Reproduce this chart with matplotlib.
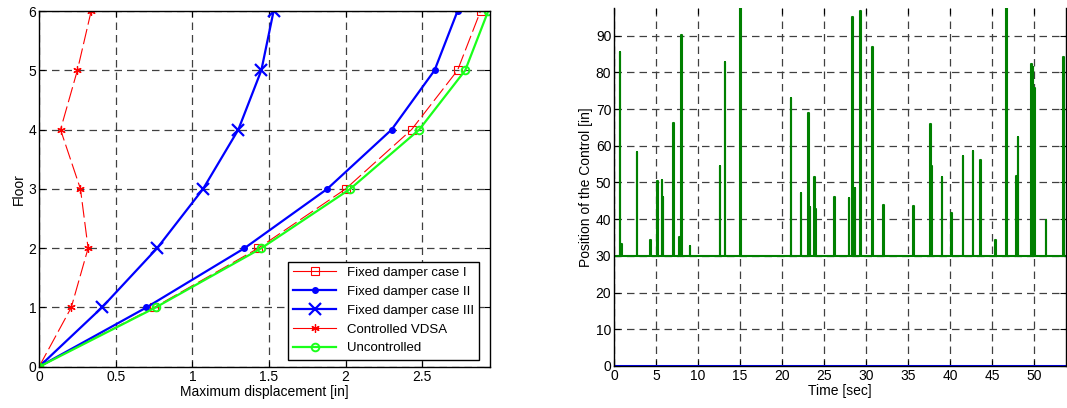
import numpy as np
import matplotlib.pyplot as plt

plt.rcParams['font.family'] = ['Liberation Sans', 'DejaVu Sans']
plt.rcParams['font.size'] = 10

# left plot: maximum displacement per floor
floors = [0, 1, 2, 3, 4, 5, 6]
case_1 = [0, 0.75, 1.43, 2.00, 2.43, 2.73, 2.88]
case_2 = [0, 0.70, 1.34, 1.88, 2.30, 2.58, 2.73]
case_3 = [0, 0.41, 0.77, 1.07, 1.30, 1.45, 1.53]
vdsa = [0, 0.21, 0.32, 0.27, 0.14, 0.25, 0.34]
uncontrolled = [0, 0.76, 1.45, 2.03, 2.48, 2.78, 2.93]

# right plot: control position spikes above the 30 in baseline
base_level = 30
spike_t = [0.71, 0.91, 2.74, 4.29, 5.2, 5.71, 5.83, 7.06, 7.78, 8.06, 9.05,
           12.62, 13.21, 15.08, 21.07, 22.26, 23.13, 23.33, 23.85, 24.0,
           26.23, 27.98, 28.37, 28.69, 29.37, 30.79, 32.06, 35.67, 37.66,
           37.82, 39.05, 40.16, 41.55, 42.74, 43.61, 45.44, 46.71, 47.9,
           48.1, 49.72, 49.88, 50.04, 51.43, 53.53]
spike_v = [85.5, 33.3, 58.3, 34.2, 50.5, 50.7, 46, 66.2, 35.1, 90.3, 32.6,
           54.4, 82.8, 99, 73, 47.1, 69, 43.3, 51.6, 42.8,
           46, 45.8, 95.2, 48.5, 96.6, 87, 44, 43.6, 65.8,
           54.6, 51.6, 41.8, 57.1, 58.7, 56, 34.4, 99, 51.9,
           62.5, 82.3, 81.4, 75.8, 39.7, 84.3]
t_end = 54

# build pulse series from the spike list
t = [0]
pos = [base_level]
w = 0.05
for ts, vs in zip(spike_t, spike_v):
    t += [ts - w, ts - w, ts + w, ts + w]
    pos += [base_level, vs, vs, base_level]
t.append(t_end)
pos.append(base_level)

fig = plt.figure(figsize=(10.67, 4.08), dpi=100)
ax1 = fig.add_axes([0.0366, 0.101, 0.4224, 0.872])
ax2 = fig.add_axes([0.5755, 0.103, 0.4235, 0.877])

red = (1, 0, 0)
blue = (0, 0, 1)
lime = (0.1, 1, 0.1)
dgreen = (0, 0.5, 0)
asterisk = (6, 2, 0)

ax1.plot(case_1, floors, color=red, lw=0.8, dashes=(14, 4), marker='s',
         mfc='none', ms=5.5, mew=0.8, label='Fixed damper case I')
ax1.plot(case_2, floors, color=blue, lw=1.6, marker='.', ms=8,
         label='Fixed damper case II')
ax1.plot(case_3, floors, color=blue, lw=1.6, marker='x', ms=8, mew=1.6,
         label='Fixed damper case III')
ax1.plot(vdsa, floors, color=red, lw=0.8, dashes=(14, 4), marker=asterisk,
         ms=6, mew=0.9, label='Controlled VDSA')
ax1.plot(uncontrolled, floors, color=lime, lw=1.6, marker='o', mfc='none',
         ms=5.5, mew=1.4, label='Uncontrolled')

ax1.set_xlim(0, 2.94)
ax1.set_ylim(0, 6)
ax1.set_xticks([0, 0.5, 1, 1.5, 2, 2.5])
ax1.set_xticklabels(['0', '0.5', '1', '1.5', '2', '2.5'])
ax1.set_yticks(floors)
ax1.set_xlabel('Maximum displacement [in]', labelpad=1)
ax1.set_ylabel('Floor', labelpad=2)
leg = ax1.legend(loc='lower right', bbox_to_anchor=(0.977, 0.02),
                 borderaxespad=0, handlelength=3.3, fancybox=False,
                 framealpha=1, edgecolor='black', labelspacing=0.5,
                 fontsize=9.5)
leg.get_frame().set_linewidth(1.0)
for ln in leg.get_lines():
    ln.set_linestyle('-')

ax2.plot([0, t_end], [0, 0], color=blue, lw=2.2, solid_capstyle='butt')
ax2.plot(t, pos, color=dgreen, lw=1.5)
ax2.set_xlim(0, 53.8)
ax2.set_ylim(0, 97.5)
ax2.set_xticks(range(0, 55, 5))
ax2.set_yticks(range(0, 91, 10))
ax2.set_xlabel('Time [sec]', labelpad=1)
ax2.set_ylabel('Position of the Control [in]', labelpad=2)
ax2.spines['top'].set_visible(False)

for ax in (ax1, ax2):
    ax.grid(True, color='0.25', linestyle=(0, (6, 4)), lw=0.9)
    ax.set_axisbelow(True)
    ax.tick_params(direction='in', top=True, right=True, length=4,
                   pad=2, labelsize=10)
    for s in ax.spines.values():
        s.set_linewidth(1.0)

plt.savefig('out.png', dpi=100)
